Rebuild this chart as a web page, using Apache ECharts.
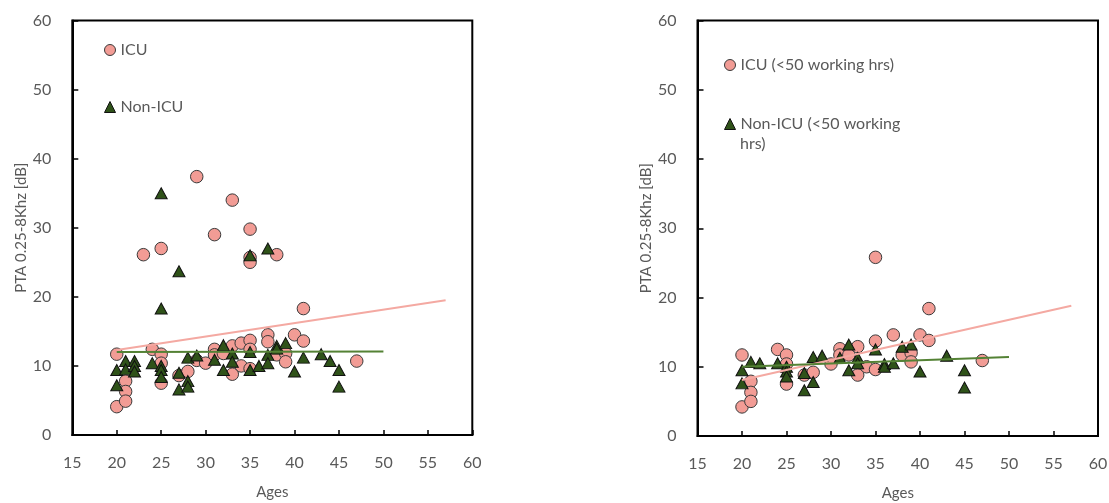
<!DOCTYPE html>
<html>
<head>
<meta charset="utf-8">
<script src="https://cdn.jsdelivr.net/npm/echarts@6/dist/echarts.min.js"></script>
<style>
html,body{margin:0;padding:0;background:#fff;}
#chart{width:1109px;height:503px;}
</style>
</head>
<body>
<div id="chart"></div>
<script>
// ---- Data (Ages, PTA dB) ----
const xTicks = [15, 20, 25, 30, 35, 40, 45, 50, 55, 60];
const yTicks = [0, 10, 20, 30, 40, 50, 60];

const leftICU = [
  [20,11.7],[20,4.1],[21,7.8],[21,6.3],[21,4.9],[23,26.1],[24,12.4],[25,27.0],[25,11.7],[25,10.4],
  [25,7.5],[27,8.6],[28,9.2],[29,37.4],[29,10.8],[30,10.4],[31,29.0],[31,12.4],[31,11.6],[32,11.8],
  [33,34.0],[33,12.9],[33,8.8],[34,13.3],[34,10.0],[35,29.8],[35,25.7],[35,25.0],[35,13.7],[35,12.4],
  [35,9.6],[37,14.5],[37,13.5],[38,26.1],[38,11.6],[39,11.8],[39,10.6],[40,14.5],[41,13.6],[41,18.3],
  [47,10.7]
];
const leftNonICU = [
  [20,9.4],[20,7.2],[21,10.7],[21,9.5],[22,10.7],[22,10.0],[22,9.2],[24,10.4],[25,35.0],[25,18.3],
  [25,10.0],[25,9.4],[25,8.4],[27,23.7],[27,9.0],[27,6.6],[28,11.2],[28,7.8],[28,7.0],[29,11.5],
  [31,10.9],[32,13.0],[32,9.4],[33,11.8],[33,10.6],[35,26.0],[35,12.0],[35,9.4],[36,10.0],[37,27.0],
  [37,11.6],[37,10.4],[38,12.9],[38,12.5],[39,13.3],[40,9.2],[41,11.2],[43,11.7],[44,10.7],[45,9.4],
  [45,7.0]
];
const leftICUTrend = [[20,12.3],[57,19.5]];
const leftNonICUTrend = [[20,12.0],[50,12.1]];

const rightICU = [
  [20,11.7],[20,4.2],[21,7.9],[21,6.3],[21,5.0],[24,12.5],[25,11.7],[25,10.4],[25,7.5],[27,8.8],
  [28,9.2],[30,10.4],[31,12.6],[31,11.7],[32,11.7],[33,12.9],[33,8.8],[34,10.0],[35,25.8],[35,13.7],
  [35,9.6],[37,14.6],[38,11.7],[39,12.0],[39,10.7],[40,14.6],[41,18.4],[41,13.8],[47,10.9]
];
const rightNonICU = [
  [20,9.5],[20,7.6],[21,10.7],[22,10.5],[24,10.5],[25,10.0],[25,9.3],[25,8.6],[27,9.1],[27,6.6],
  [28,11.4],[28,7.8],[29,11.6],[31,11.3],[32,13.2],[32,9.5],[33,11.3],[33,10.5],[35,12.5],[36,10.4],
  [36,10.0],[37,10.5],[38,12.9],[39,13.2],[40,9.3],[43,11.6],[45,9.5],[45,7.0]
];
const rightICUTrend = [[20,8.1],[57,18.8]];
const rightNonICUTrend = [[20,10.0],[50,11.4]];

const seriesNames = {
  leftICU: 'ICU', leftNon: 'Non-ICU',
  rightICU: 'ICU (<50 working hrs)', rightNon: 'Non-ICU (<50 working hrs)'
};
const rightNonLines = ['Non-ICU (<50 working', 'hrs)'];
const xTitle = 'Ages';
const yTitle = 'PTA 0.25-8Khz [dB]';

// ---- Styles ----
const FONT = 'Lato';
const TXT = '#595959';
const PINK = '#F29C95';
const PINK_LINE = '#F4A9A2';
const GREEN = '#2F5219';
const GREEN_LINE = '#548235';

function xAxis(gi){
  return {
    gridIndex: gi, type: 'value', min: 15, max: 60, interval: 5,
    name: xTitle, nameLocation: 'middle', nameGap: 50,
    nameTextStyle: {color: TXT, fontSize: 15, fontFamily: FONT},
    axisLine: {show: true, lineStyle: {color: '#000', width: 2}},
    axisTick: {show: true, inside: true, length: 5, lineStyle: {color: '#000', width: 1.5}},
    axisLabel: {color: TXT, fontSize: 16, fontFamily: FONT, margin: 20,
      formatter: v => xTicks.includes(v) ? String(v) : ''},
    splitLine: {show: false}
  };
}
function yAxis(gi){
  return {
    gridIndex: gi, type: 'value', min: 0, max: 60, interval: 10,
    name: yTitle, nameLocation: 'middle', nameGap: 33, nameRotate: 90,
    nameTextStyle: {color: TXT, fontSize: 15, fontFamily: FONT},
    axisLine: {show: true, lineStyle: {color: '#000', width: 2}},
    axisTick: {show: true, inside: true, length: 6, lineStyle: {color: '#000', width: 1.5}},
    axisLabel: {color: TXT, fontSize: 16, fontFamily: FONT, margin: 21,
      formatter: v => yTicks.includes(v) ? String(v) : ''},
    splitLine: {show: false}
  };
}
function circles(name, data, gi){
  return {name, type: 'scatter', xAxisIndex: gi, yAxisIndex: gi, data,
    symbol: 'circle', symbolSize: 12.5, z: 3,
    itemStyle: {color: PINK, borderColor: '#3a3a3a', borderWidth: 1, opacity: 1}};
}
function triangles(name, data, gi){
  return {name, type: 'scatter', xAxisIndex: gi, yAxisIndex: gi, data,
    symbol: 'triangle', symbolSize: [12, 11], z: 4,
    itemStyle: {color: GREEN, borderColor: '#111', borderWidth: 1, opacity: 1}};
}
function trend(data, gi, color){
  return {type: 'line', xAxisIndex: gi, yAxisIndex: gi, data, symbol: 'none',
    z: 5, silent: true, lineStyle: {color, width: 2}};
}
function legend(name, left, top, icon, color, border, fmt){
  return {data: [{name, icon, itemStyle: {color, borderColor: border, borderWidth: 1, opacity: 1}}],
    left, top, itemWidth: 11, itemHeight: 11, itemGap: 5,
    formatter: fmt || (n => n),
    textStyle: {color: TXT, fontSize: 16, fontFamily: FONT},
    selectedMode: false};
}

const chart = echarts.init(document.getElementById('chart'), null, {renderer: 'canvas'});
chart.setOption({
  backgroundColor: '#fff',
  animation: false,
  grid: [
    {left: 72.3, right: 636.7, top: 20.5, bottom: 68, show: true, borderColor: '#000', borderWidth: 2, outerBoundsMode: 'none', containLabel: false},
    {left: 697.5, right: 11, top: 20.5, bottom: 67, show: true, borderColor: '#000', borderWidth: 2, outerBoundsMode: 'none', containLabel: false}
  ],
  xAxis: [xAxis(0), xAxis(1)],
  yAxis: [yAxis(0), yAxis(1)],
  legend: [
    legend(seriesNames.leftICU, 99, 37, 'circle', PINK, '#3a3a3a'),
    legend(seriesNames.leftNon, 99, 94, 'triangle', GREEN, '#111'),
    legend(seriesNames.rightICU, 719, 52, 'circle', PINK, '#3a3a3a'),
    legend(seriesNames.rightNon, 719, 111, 'triangle', GREEN, '#111', () => rightNonLines[0])
  ],
  graphic: [{
    type: 'text', left: 740, top: 136, silent: true,
    style: {text: rightNonLines[1], fill: TXT, font: '16px ' + FONT}
  }],
  series: [
    circles(seriesNames.leftICU, leftICU, 0),
    triangles(seriesNames.leftNon, leftNonICU, 0),
    trend(leftICUTrend, 0, PINK_LINE),
    trend(leftNonICUTrend, 0, GREEN_LINE),
    circles(seriesNames.rightICU, rightICU, 1),
    triangles(seriesNames.rightNon, rightNonICU, 1),
    trend(rightICUTrend, 1, PINK_LINE),
    trend(rightNonICUTrend, 1, GREEN_LINE)
  ]
});
</script>
</body>
</html>
